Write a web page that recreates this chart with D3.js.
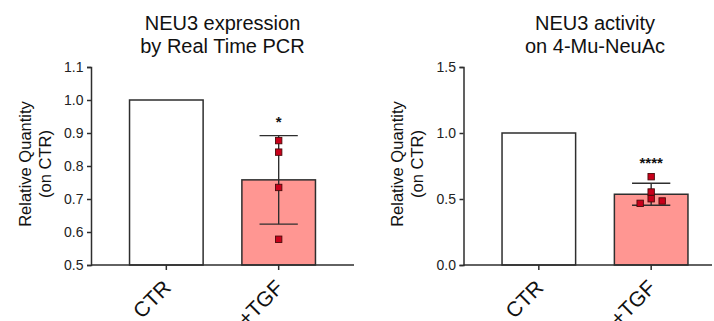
<!DOCTYPE html>
<html><head><meta charset="utf-8">
<script src="https://cdn.jsdelivr.net/npm/d3@7"></script>
<style>
html,body{margin:0;padding:0;background:#fff;overflow:hidden}
text{font-family:"Liberation Sans",Arial,Helvetica,sans-serif}
</style></head>
<body><svg id="c" width="714" height="321"></svg>
<script>
// ---- data ----
const categories = ["CTR", "+TGF"];
const exprTitle = ["NEU3 expression", "by Real Time PCR"];
const exprMeans = [1.0, 0.758];
const exprSD = [0, 0.134];
const exprPoints = [0.877, 0.842, 0.735, 0.578];
const exprJitter = [0, 0, 0, 0];
const exprTicks = [0.5, 0.6, 0.7, 0.8, 0.9, 1.0, 1.1];
const exprSig = "*";

const actTitle = ["NEU3 activity", "on 4-Mu-NeuAc"];
const actMeans = [1.0, 0.536];
const actSD = [0, 0.083];
const actPoints = [0.669, 0.553, 0.502, 0.467, 0.485];
const actJitter = [0, 0, 0, -1, 1];
const actTicks = [0.0, 0.5, 1.0, 1.5];
const actSig = "****";

const yLabel = ["Relative Quantity", "(on CTR)"];
const barFills = ["#ffffff", "#ff9692"];

// ---- drawing ----
const svg = d3.select("#c");
const ink = "#2e2e2e";

function panel(o) {
  const g = svg.append("g");
  const y = d3.scaleLinear().domain(o.domain).range([265, 67]);
  const x = d3.scaleBand().domain(categories).range([o.x0, o.x0 + 263])
    .paddingInner(0.345).paddingOuter(0.343);
  const bw = x.bandwidth();
  const base = y(o.domain[0]);

  // title
  const cx = (o.x0 + o.x0 + 263) / 2;
  g.selectAll("text.title").data(o.title).join("text")
    .attr("x", cx).attr("y", (d, i) => 30 + i * 23)
    .attr("text-anchor", "middle").attr("font-size", 20).attr("fill", "#111")
    .text(d => d);

  // y label
  g.selectAll("text.yl").data(yLabel).join("text")
    .attr("transform", (d, i) => `translate(${o.labX + i * 20},164) rotate(-90)`)
    .attr("text-anchor", "middle").attr("dominant-baseline", "central")
    .attr("font-size", 16.5).attr("fill", "#111").text(d => d);

  // bars
  g.selectAll("rect.bar").data(o.means).join("rect")
    .attr("x", (d, i) => x(categories[i])).attr("width", bw)
    .attr("y", d => y(d)).attr("height", d => base - y(d))
    .attr("fill", (d, i) => barFills[i]).attr("stroke", ink).attr("stroke-width", 1.5);

  // error bar for treated group
  const i = 1;
  const c = x(categories[i]) + bw / 2;
  const top = o.means[i] + o.sd[i], bot = o.means[i] - o.sd[i];
  const capW = bw * 0.26;
  g.append("line").attr("x1", c).attr("x2", c).attr("y1", y(top)).attr("y2", y(bot))
    .attr("stroke", ink).attr("stroke-width", 1.4);
  [top, bot].forEach(v => g.append("line").attr("x1", c - capW).attr("x2", c + capW)
    .attr("y1", y(v)).attr("y2", y(v)).attr("stroke", ink).attr("stroke-width", 1.4));

  // points
  const ps = 6.4;
  g.selectAll("rect.pt").data(o.points).join("rect")
    .attr("x", (d, k) => c + o.jitter[k] * 11 - ps / 2)
    .attr("y", d => y(d) - ps / 2).attr("width", ps).attr("height", ps)
    .attr("fill", "#c8001a").attr("stroke", "#4a0a0a").attr("stroke-width", 0.9);

  // significance
  const sigTop = Math.max(top, d3.max(o.points));
  g.append("text").attr("x", c).attr("y", y(sigTop) - 9)
    .attr("text-anchor", "middle").attr("font-size", 15).attr("font-weight", "bold")
    .attr("fill", "#111").text(o.sig);

  // y axis
  const ya = g.append("g").attr("transform", `translate(${o.x0},0)`)
    .call(d3.axisLeft(y).tickValues(o.ticks).tickFormat(d3.format(".1f")).tickSize(4).tickPadding(3.5));
  ya.select(".domain").attr("stroke", ink).attr("stroke-width", 1.5);
  ya.selectAll(".tick line").attr("stroke", ink).attr("stroke-width", 1.5);
  ya.selectAll(".tick text").attr("font-size", 14).attr("fill", "#222")
    .attr("font-family", "Liberation Sans, Arial, sans-serif");

  // x axis
  const xa = g.append("g").attr("transform", `translate(0,${base})`)
    .call(d3.axisBottom(x).tickSize(5).tickSizeOuter(0));
  xa.select(".domain").attr("stroke", ink).attr("stroke-width", 1.5)
    .attr("d", `M${o.x0},0H${o.xEnd}`);
  xa.selectAll(".tick line").attr("stroke", ink).attr("stroke-width", 1.5);
  xa.selectAll(".tick text").attr("font-size", 21).attr("fill", "#111")
    .attr("font-family", "Liberation Sans, Arial, sans-serif")
    .attr("text-anchor", "end").attr("dy", null).attr("y", null)
    .attr("transform", "translate(6,24) rotate(-45)");
}

panel({ x0: 91, xEnd: 354, labX: 25, domain: [0.5, 1.1], ticks: exprTicks,
  title: exprTitle, means: exprMeans, sd: exprSD, points: exprPoints, jitter: exprJitter, sig: exprSig });
panel({ x0: 463.5, xEnd: 712, labX: 397, domain: [0, 1.5], ticks: actTicks,
  title: actTitle, means: actMeans, sd: actSD, points: actPoints, jitter: actJitter, sig: actSig });
</script></body></html>
